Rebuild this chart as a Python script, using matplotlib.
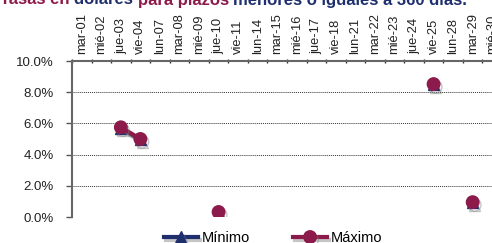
import numpy as np
import matplotlib
matplotlib.use("Agg")
import matplotlib.pyplot as plt
import matplotlib.patheffects as pe

plt.rcParams['font.family'] = ['Liberation Sans', 'DejaVu Sans']

# dias del mes
dias = ["mar-01", "mié-02", "jue-03", "vie-04", "lun-07", "mar-08", "mié-09",
        "jue-10", "vie-11", "lun-14", "mar-15", "mié-16", "jue-17", "vie-18",
        "lun-21", "mar-22", "mié-23", "jue-24", "vie-25", "lun-28", "mar-29",
        "mié-30"]

nan = np.nan
# tasas en %
minimo = [nan, nan, 5.70, 4.95, nan, nan, nan, 0.30, nan, nan, nan, nan, nan,
          nan, nan, nan, nan, nan, 8.50, nan, 0.92, nan]
maximo = [nan, nan, 5.75, 5.00, nan, nan, nan, 0.32, nan, nan, nan, nan, nan,
          nan, nan, nan, nan, nan, 8.52, nan, 0.95, nan]

azul = "#1f2f6e"
granate = "#8c1a4a"

fig = plt.figure(figsize=(4.92, 2.43), dpi=100)
ax = fig.add_axes([72/492, 1-217/243, 430/492, 156/243])

x = np.arange(len(dias))
sombra = [pe.SimpleLineShadow(offset=(1.5, -2), shadow_color="gray", alpha=0.45), pe.Normal()]

ax.plot(x, minimo, color=azul, marker="^", markersize=8, lw=3, label="Mínimo",
        path_effects=sombra)
ax.plot(x, maximo, color=granate, marker="o", markersize=9, lw=3, label="Máximo",
        path_effects=sombra)

ax.set_xlim(-0.5, len(dias) - 0.5)
ax.set_ylim(0, 10)

# eje x arriba
ax.xaxis.tick_top()
ax.set_xticks(x)
ax.set_xticklabels(dias, rotation=90, fontsize=9.3, color="#222222")
ax.set_xticks(np.arange(-0.5, len(dias), 1), minor=True)
ax.tick_params(axis="x", which="major", length=0, pad=5)
ax.tick_params(axis="x", which="minor", length=3, direction="inout", color="#333333", width=1)

ax.set_yticks(np.arange(0, 10.1, 2))
ax.set_yticklabels(["%.1f%%" % v for v in np.arange(0, 10.1, 2)], fontsize=9.5, color="#222222")
ax.tick_params(axis="y", length=4, color="#555555", width=1, pad=9)

for v in [0, 2, 4, 6, 8]:
    ax.axhline(v, color="#333333", lw=0.7, ls=(0, (1, 1)), zorder=0)

ax.spines["right"].set_visible(False)
ax.spines["bottom"].set_visible(False)
ax.spines["left"].set_color("#666666")
ax.spines["left"].set_linewidth(1.5)
ax.spines["top"].set_color("#666666")
ax.spines["top"].set_linewidth(1.5)

# titulo cortado arriba
partes = [("Tasas en ", granate), ("dólares ", azul), ("para plazos ", granate),
          ("menores o iguales a 360 días.", azul)]
xpos = 0.0
for txt, col in partes:
    t = fig.text(xpos, 1.0, txt, color=col, fontsize=12, fontweight="bold",
                 ha="left", va="center")
    fig.canvas.draw()
    bb = t.get_window_extent()
    xpos = bb.x1 / fig.bbox.width

fig.legend(loc="center", bbox_to_anchor=(0.555, 0.02), ncol=2, frameon=False,
           fontsize=10.5, handlelength=2.3, columnspacing=3, handletextpad=0.25)

fig.savefig("out.png", dpi=100)
